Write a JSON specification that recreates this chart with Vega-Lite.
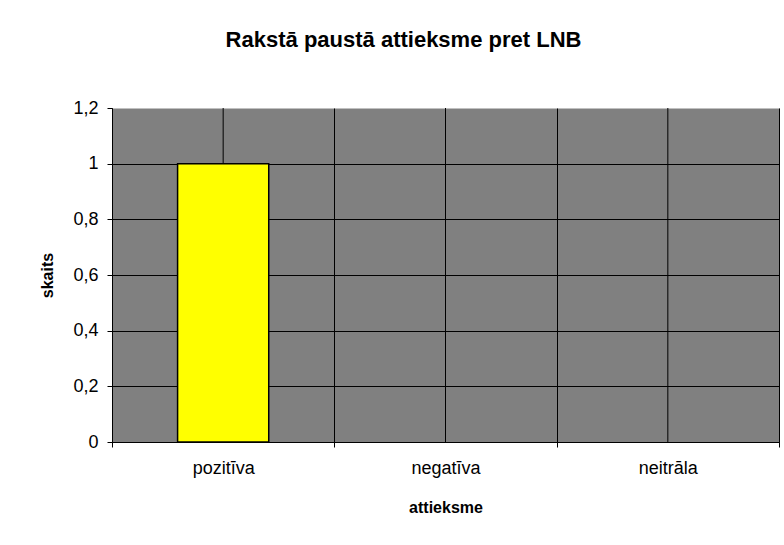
{
  "$schema": "https://vega.github.io/schema/vega-lite/v6.json",
  "width": 667,
  "height": 334,
  "autosize": {"type": "none"},
  "padding": {"left": 112, "top": 108, "right": 5, "bottom": 103},
  "background": "white",
  "title": {
    "text": "Rakstā paustā attieksme pret LNB",
    "font": "Liberation Sans",
    "fontSize": 22,
    "fontWeight": "bold",
    "color": "black",
    "anchor": "middle",
    "dx": -42,
    "offset": 47
  },
  "data": {
    "values": [
      {"attieksme": "pozitīva", "skaits": 1},
      {"attieksme": "negatīva", "skaits": 0},
      {"attieksme": "neitrāla", "skaits": 0}
    ]
  },
  "encoding": {
    "x": {
      "field": "attieksme",
      "type": "nominal",
      "sort": null,
      "scale": {"paddingInner": 0, "paddingOuter": 0},
      "axis": {
        "title": "attieksme",
        "labelAngle": 0,
        "tickBand": "extent",
        "grid": true,
        "gridColor": "black",
        "gridOpacity": 1,
        "gridWidth": 1,
        "domainColor": "black",
        "domainWidth": 1,
        "tickColor": "black",
        "tickSize": 5,
        "labelPadding": 12,
        "labelFont": "Liberation Sans",
        "labelFontSize": 18,
        "labelColor": "black",
        "titleFont": "Liberation Sans",
        "titleFontSize": 16,
        "titleFontWeight": "bold",
        "titleColor": "black",
        "titlePadding": 22
      }
    }
  },
  "layer": [
    {
      "mark": {"type": "rule", "color": "black", "strokeWidth": 1},
      "encoding": {
        "y": {"datum": 0, "type": "quantitative"},
        "y2": {"datum": 1.2}
      }
    },
    {
      "mark": {"type": "bar", "fill": "#FFFF00", "stroke": "black", "strokeWidth": 1.5, "width": {"band": 0.41}},
      "encoding": {
        "strokeOpacity": {"condition": {"test": "datum.skaits > 0", "value": 1}, "value": 0},
        "y": {
          "field": "skaits",
          "type": "quantitative",
          "scale": {"domain": [0, 1.2], "nice": false},
          "axis": {
            "title": "skaits",
            "values": [0, 0.2, 0.4, 0.6, 0.8, 1, 1.2],
            "labelExpr": "replace(format(datum.value, ''), '.', ',')",
            "grid": true,
            "gridColor": {"condition": {"test": "datum.value >= 1.2", "value": "transparent"}, "value": "black"},
            "gridOpacity": 1,
            "gridWidth": 1,
            "domainColor": "black",
            "tickColor": "black",
            "tickSize": 5,
            "labelPadding": 9,
            "labelFont": "Liberation Sans",
            "labelFontSize": 18,
            "labelColor": "black",
            "titleFont": "Liberation Sans",
            "titleFontSize": 16,
            "titleFontWeight": "bold",
            "titleColor": "black",
            "titlePadding": 17
          }
        }
      }
    }
  ],
  "config": {
    "view": {"fill": "#808080", "stroke": "#c0c0c0", "strokeWidth": 1}
  }
}
